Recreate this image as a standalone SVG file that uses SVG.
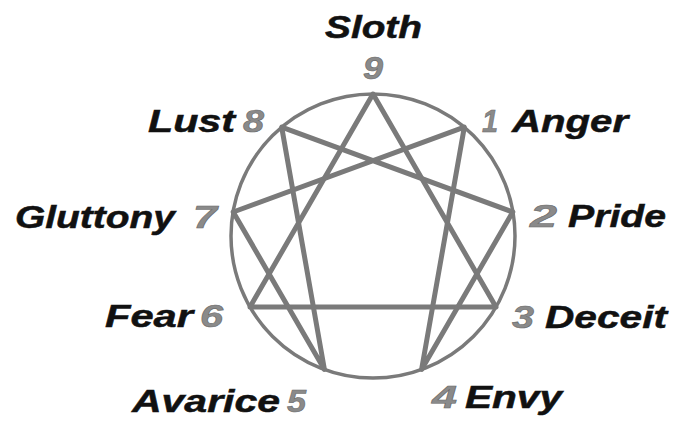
<svg xmlns="http://www.w3.org/2000/svg" width="674" height="423" viewBox="0 0 674 423">
<style>
.w{font-family:"Liberation Sans",Arial,sans-serif;font-weight:bold;font-style:italic;font-size:32px;fill:#111;stroke:#111;stroke-width:0.5}
.n{font-family:"Liberation Sans",Arial,sans-serif;font-weight:bold;font-style:italic;font-size:32px;fill:#8a8a8a;stroke:#6a6a6a;stroke-width:0.6}
.ln{stroke:#7a7a7a;stroke-width:5;fill:none;stroke-linecap:round;stroke-linejoin:round}
.c{stroke:#7a7a7a;stroke-width:3.5;fill:none}
</style>
<rect width="674" height="423" fill="#fff"/>
<g id="connectors">
<circle class="c" cx="373" cy="236" r="142"/>
<polygon class="ln" points="373,94 496,307 250,307"/>
<polygon class="ln" points="464.3,127.2 421.6,369.4 512.8,212 281.7,127.2 324.4,369.4 233.2,212"/>
</g>
<g id="p9"><text class="w" x="325" y="38" textLength="97" lengthAdjust="spacingAndGlyphs">Sloth</text><text class="n" x="363" y="79" textLength="20" lengthAdjust="spacingAndGlyphs">9</text></g>
<g id="p1"><text class="n" x="482" y="132" textLength="16" lengthAdjust="spacingAndGlyphs">1</text><text class="w" x="512" y="132" textLength="116" lengthAdjust="spacingAndGlyphs">Anger</text></g>
<g id="p2"><text class="n" x="530" y="227" textLength="27" lengthAdjust="spacingAndGlyphs">2</text><text class="w" x="568" y="227" textLength="98" lengthAdjust="spacingAndGlyphs">Pride</text></g>
<g id="p3"><text class="n" x="512" y="328" textLength="22" lengthAdjust="spacingAndGlyphs">3</text><text class="w" x="545" y="328" textLength="122" lengthAdjust="spacingAndGlyphs">Deceit</text></g>
<g id="p4"><text class="n" x="432" y="408" textLength="25" lengthAdjust="spacingAndGlyphs">4</text><text class="w" x="465" y="408" textLength="97" lengthAdjust="spacingAndGlyphs">Envy</text></g>
<g id="p5"><text class="w" x="132" y="412" textLength="148" lengthAdjust="spacingAndGlyphs">Avarice</text><text class="n" x="287" y="412" textLength="19" lengthAdjust="spacingAndGlyphs">5</text></g>
<g id="p6"><text class="w" x="105" y="327" textLength="88" lengthAdjust="spacingAndGlyphs">Fear</text><text class="n" x="200" y="327" textLength="23" lengthAdjust="spacingAndGlyphs">6</text></g>
<g id="p7"><text class="w" x="15" y="228" textLength="160" lengthAdjust="spacingAndGlyphs">Gluttony</text><text class="n" x="193" y="228" textLength="24" lengthAdjust="spacingAndGlyphs">7</text></g>
<g id="p8"><text class="w" x="148" y="132" textLength="87" lengthAdjust="spacingAndGlyphs">Lust</text><text class="n" x="243" y="132" textLength="21" lengthAdjust="spacingAndGlyphs">8</text></g>
</svg>
